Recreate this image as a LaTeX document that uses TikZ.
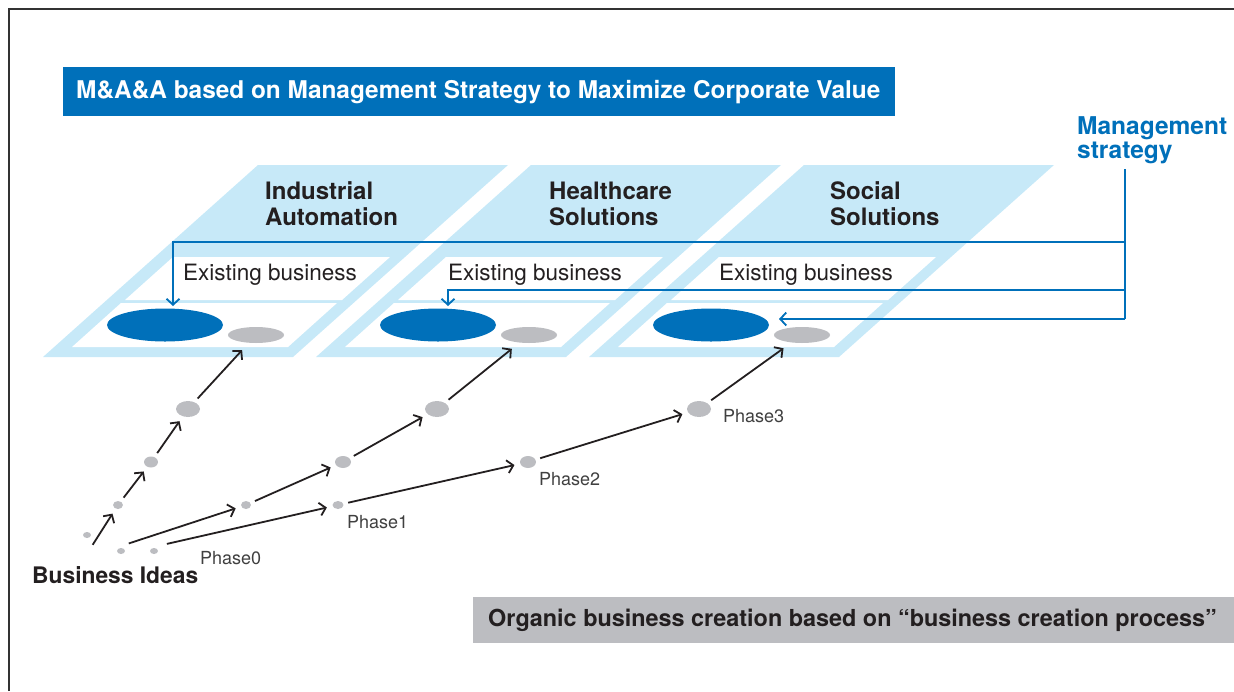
\documentclass[tikz,border=0pt]{standalone}
\usepackage{fontspec}
\setmainfont{TeX Gyre Heros}
\usetikzlibrary{arrows.meta,shapes.geometric,positioning}
\definecolor{hblue}{RGB}{0,112,186}
\definecolor{hlight}{RGB}{199,233,248}
\definecolor{hgray}{RGB}{188,189,193}
\definecolor{htext}{RGB}{35,31,32}
\tikzset{
  idot/.style 2 args={ellipse,fill=hgray,inner sep=0pt,outer sep=0pt,minimum width=#1,minimum height=#2},
  bigdot/.style={ellipse,fill=hblue,inner sep=0pt,outer sep=0pt,minimum width=116pt,minimum height=33pt},
  idea/.style={->,line width=1.8pt,htext,shorten <=5pt,shorten >=6pt},
  msline/.style={hblue,line width=1.8pt},
  ttl/.style={anchor=base west,inner sep=0pt,align=left,text=htext,font=\bfseries\fontsize{24}{26}\selectfont},
  exist/.style={anchor=base west,inner sep=0pt,text=htext,font=\fontsize{22.5}{27}\selectfont},
  phase/.style={anchor=base west,inner sep=0pt,text=black!75,font=\fontsize{18}{20}\selectfont},
  >={Straight Barb[length=6pt,width=13pt]}
}

\begin{document}
\begin{tikzpicture}[x=1pt,y=-1pt]
  \useasboundingbox (0,0) rectangle (1234,691);
  \draw[line width=1.4pt,black!80] (9,691) -- (9,9) -- (1234,9);

  \node[anchor=north west,fill=hblue,text=white,minimum height=49pt,inner xsep=13pt,inner ysep=0pt,
        font=\bfseries\fontsize{24.4}{28}\selectfont] (head) at (63,67)
        {\makebox[806pt][l]{M\&A\&A based on Management Strategy to Maximize Corporate Value}};

  \foreach \i in {0,1,2}{
    \begin{scope}[xshift=\i*273pt]
      \fill[hlight] (43,357) -- (258,165) -- (508,165) -- (293,357) -- cycle;
      \fill[white] (125,300) -- (173,257) -- (390,257) -- (342,300) -- cycle;
      \fill[white] (72,347) -- (121,303) -- (337,303) -- (288,347) -- cycle;
      \node[bigdot] (e\i) at (165,325) {};
      \node[idot={56pt}{16pt}] (g\i) at (256,335) {};
    \end{scope}
  }

  \node[ttl] (ia) at (265,225) {Industrial\\Automation};
  \node[ttl] (hs) at (549,225) {Healthcare\\Solutions};
  \node[ttl] (ss) at (830,225) {Social\\Solutions};

  \node[exist] (x0) at (183,280) {Existing business};
  \node[exist] (x1) at (448,280) {Existing business};
  \node[exist] (x2) at (719,280) {Existing business};

  \node[anchor=base west,inner sep=0pt,align=left,text=hblue,font=\bfseries\fontsize{24.5}{24}\selectfont] (mgmt) at (1077,158) {Management\\strategy};
  \coordinate (m0) at (1125,169);
  \coordinate (m1) at (1125,242);
  \coordinate (m2) at (1125,290);
  \coordinate (m3) at (1125,319);
  \coordinate (a0) at (173,306);
  \coordinate (a1) at (448,306);
  \coordinate (a2) at (779,319);
  \draw[msline] (m0) -- (m3);
  \draw[msline,->] (m1) -| (a0);
  \draw[msline,->] (m2) -| (a1);
  \draw[msline,->] (m3) -- (a2);

  \node[idot={8pt}{6pt}] (i0) at (87,535) {};
  \node[idot={10pt}{8pt}] (i1) at (118,505) {};
  \node[idot={14pt}{11pt}] (i2) at (151,462) {};
  \node[idot={24pt}{16pt}] (i3) at (188,409) {};
  \node[idot={8pt}{6pt}] (h0) at (121,551) {};
  \node[idot={10pt}{8pt}] (h1) at (246,505) {};
  \node[idot={16pt}{12pt}] (h2) at (343,462) {};
  \node[idot={24pt}{16pt}] (h3) at (437,409) {};
  \node[idot={8pt}{6pt}] (s0) at (154,551) {};
  \node[idot={11pt}{8pt}] (s1) at (338,505) {};
  \node[idot={16pt}{12pt}] (s2) at (528,462) {};
  \node[idot={24pt}{16pt}] (s3) at (699,409) {};
  \coordinate (ri) at (90,549);
  \coordinate (rh) at (124,545);
  \coordinate (rs) at (162,545);

  \draw[idea] (ri) -- (i1);
  \draw[idea] (i1) -- (i2);
  \draw[idea] (i2) -- (i3);
  \draw[idea,shorten >=10pt] (i3) -- (g0);
  \draw[idea] (rh) -- (h1);
  \draw[idea] (h1) -- (h2);
  \draw[idea] (h2) -- (h3);
  \draw[idea,shorten >=10pt] (h3) -- (g1);
  \draw[idea] (rs) -- (s1);
  \draw[idea] (s1) -- (s2);
  \draw[idea] (s2) -- (s3);
  \draw[idea,shorten >=10pt] (s3) -- (g2);

  \node[phase] (p0) at (200,564) {Phase0};
  \node[phase] (p1) at (347,528) {Phase1};
  \node[phase] (p2) at (539,485) {Phase2};
  \node[phase] (p3) at (723,422) {Phase3};
  \node[anchor=base west,inner sep=0pt,text=htext,font=\bfseries\fontsize{22.8}{26}\selectfont] (ideas) at (32,583) {Business Ideas};

  \node[anchor=north west,fill=hgray,text=htext,minimum height=46pt,inner xsep=15pt,inner ysep=0pt,
        font=\bfseries\fontsize{23.4}{26}\selectfont] (organic) at (473,597)
        {\makebox[731pt][l]{Organic business creation based on “business creation process”}};
\end{tikzpicture}
\end{document}
